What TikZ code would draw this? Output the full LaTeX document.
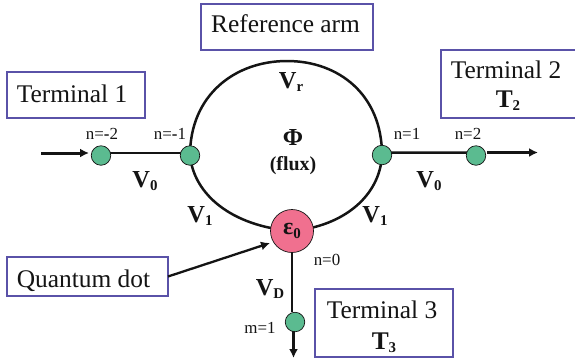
\documentclass[tikz,border=0pt]{standalone}
\usepackage{fontspec}
\setmainfont{Liberation Serif}
\usetikzlibrary{arrows.meta,backgrounds}
\definecolor{boxblue}{HTML}{5A52A8}
\definecolor{dotgreen}{HTML}{5BBB90}
\definecolor{dotpink}{HTML}{F0708F}
\definecolor{inkk}{HTML}{141414}
\newcommand{\fs}[1]{\fontsize{#1}{#1}\selectfont}
\tikzset{
  x=1bp,y=-1bp,
  boxed/.style={draw=boxblue,line width=2.5bp,fill=white,inner sep=0pt,outer sep=0pt},
  openbox/.style={inner sep=0pt,outer sep=0pt},
  boxtext/.style={anchor=base,inner sep=0pt,text=inkk,font=\fs{25.5}},
  site/.style={circle,draw=inkk,line width=0.7bp,fill=dotgreen,minimum size=19.5bp,inner sep=0pt},
  qdot/.style={circle,draw=inkk,line width=0.7bp,fill=dotpink,minimum size=43bp,inner sep=0pt},
  wire/.style={draw=inkk,line width=2.5bp},
  flow/.style={draw=inkk,line width=3bp,-{Latex[length=9bp,width=9bp]}},
  tag/.style={anchor=base,inner sep=0pt,text=inkk,font=\fs{17}},
  sym/.style={anchor=base,inner sep=0pt,text=inkk,font=\fs{24.5}\bfseries},
}
\newcommand{\sbs}[1]{\raisebox{-3.5bp}{\fs{15}\bfseries #1}}
\begin{document}
\begin{tikzpicture}
\useasboundingbox (0,0) rectangle (575,363);
% boxes
\node[boxed,minimum width=138bp,minimum height=46bp] (t1) at (76,95) {};
\node[boxed,minimum width=172bp,minimum height=46bp] (ra) at (287,27) {};
\node[openbox,minimum width=134bp,minimum height=68bp] (t2) at (508,84) {};
\draw[draw=boxblue,line width=2.5bp] (t2.north east) -- (t2.north west) -- (t2.south west) -- (t2.south east);
\node[boxed,minimum width=161bp,minimum height=39bp] (qd) at (87.5,276.5) {};
\node[boxed,minimum width=138bp,minimum height=68bp] (t3) at (384,323) {};
\node[boxtext] (t1a) at (72,102) {Terminal 1};
\node[boxtext] (raa) at (285.5,32) {Reference arm};
\node[boxtext] (t2a) at (506,78) {Terminal 2};
\node[boxtext,font=\fs{25.5}\bfseries] (t2b) at (508,107) {T\sbs{2}};
\node[boxtext] (qda) at (83.5,287) {Quantum dot};
\node[boxtext] (t3a) at (382,318) {Terminal 3};
\node[boxtext,font=\fs{25.5}\bfseries] (t3b) at (384,349) {T\sbs{3}};
% sites
\node[site] (nm2) at (101,155.5) {};
\node[site] (nm1) at (190,155.5) {};
\node[site] (np1) at (382,155) {};
\node[site] (np2) at (476,155.5) {};
\node[site] (m1) at (295,322) {};
\node[qdot,font=\fs{24}\bfseries,text=inkk] (dot) at (292,231) {ε\sbs{0}};
\coordinate (top) at (287,61);
\coordinate (inL) at (41,153);
\coordinate (outR) at (538,152.5);
\coordinate (outD) at (293.5,358);
\coordinate (dotIn) at (270,243);
\coordinate (nm2w) at (89,153);
\coordinate (np2e) at (487,152.5);
\coordinate (m1s) at (293.5,331);
\begin{scope}[on background layer]
\draw[wire] (nm1.center) .. controls (190,95) and (235,61) .. (top) .. controls (339,61) and (382,95) .. (np1.center);
\draw[wire] (nm1.center) .. controls (194,195) and (232,226) .. (dot.center);
\draw[wire] (np1.center) .. controls (380,195) and (345,226) .. (dot.center);
\draw[wire] ([yshift=2.5bp]nm2.center) -- ([yshift=2.5bp]nm1.center);
\draw[wire] ([yshift=2.5bp]np1.center) -- ([yshift=3bp]np2.center);
\draw[wire] (dot.south) -- (dot.south |- m1.north);
\end{scope}
\draw[flow] (inL) -- (nm2w);
\draw[flow] (np2e) -- (outR);
\draw[flow] (m1s) -- (outD);
\draw[draw=inkk,line width=2.3bp,-{Latex[length=9bp,width=9bp]}] (qd.east) -- (dotIn);
% labels
\node[tag] (l1) at (102,139) {n=\textbf{-}2};
\node[tag] (l2) at (170,139) {n=\textbf{-}1};
\node[tag] (l3) at (407,139) {n=1};
\node[tag] (l4) at (468,139) {n=2};
\node[tag] (l5) at (327,265) {n=0};
\node[tag] (l6) at (260,333) {m=1};
\node[sym] (v1) at (145,187) {V\sbs{0}};
\node[sym] (v2) at (429,187) {V\sbs{0}};
\node[sym] (v3) at (200,222) {V\sbs{1}};
\node[sym] (v4) at (375,222) {V\sbs{1}};
\node[sym] (v5) at (291,88) {V\sbs{r}};
\node[sym] (v6) at (270,295) {V\sbs{D}};
\node[sym] (phi) at (293,145) {Φ};
\node[sym,font=\fs{20}\bfseries] (flux) at (293,170) {(flux)};
\end{tikzpicture}
\end{document}
